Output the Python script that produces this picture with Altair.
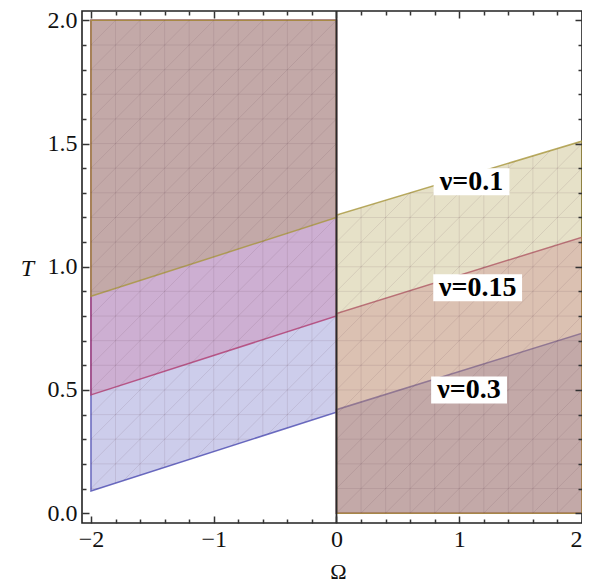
import altair as alt
import pandas as pd
import numpy as np

# ---- data ----
nu_labels = ["ν=0.1", "ν=0.15", "ν=0.3"]
omega_left = [-2.0, 0.0]
omega_right = [0.0, 2.0]
T_left_start = [0.88, 0.48, 0.09]   # boundary at Ω=-2
T_left_end = [1.20, 0.80, 0.41]     # boundary at Ω=0 (left side)
T_right_start = [1.21, 0.81, 0.42]  # boundary at Ω=0 (right side)
T_right_end = [1.51, 1.12, 0.73]    # boundary at Ω=2
T_top = 2.0
T_bottom = 0.0

label_omega = [1.10, 1.15, 1.08]
label_T = [1.345, 0.915, 0.50]

x_major = [-2, -1, 0, 1, 2]
x_minor = [-1.8, -1.6, -1.4, -1.2, -0.8, -0.6, -0.4, -0.2,
           0.2, 0.4, 0.6, 0.8, 1.2, 1.4, 1.6, 1.8]
y_major = [0.0, 0.5, 1.0, 1.5, 2.0]
y_minor = [0.1, 0.2, 0.3, 0.4, 0.6, 0.7, 0.8, 0.9,
           1.1, 1.2, 1.3, 1.4, 1.6, 1.7, 1.8, 1.9]

# mesh (triangulation texture) spacing
mesh_dx = 0.2
mesh_dy = 0.1

fill_colors = {"ν=0.1": "#ac9b48", "ν=0.15": "#cd6998", "ν=0.3": "#5858bc"}
stroke_colors = {"ν=0.1": "#a8963c", "ν=0.15": "#b03c70", "ν=0.3": "#4848b0"}

# ---- tables ----
rows = []
for i, lab in enumerate(nu_labels):
    rows.append({"nu": lab, "side": "L", "x": omega_left[0], "lo": T_left_start[i], "hi": T_top})
    rows.append({"nu": lab, "side": "L", "x": omega_left[1], "lo": T_left_end[i], "hi": T_top})
    rows.append({"nu": lab, "side": "R", "x": omega_right[0], "lo": T_bottom, "hi": T_right_start[i]})
    rows.append({"nu": lab, "side": "R", "x": omega_right[1], "lo": T_bottom, "hi": T_right_end[i]})
regions = pd.DataFrame(rows)

# union of the regions: two convex quadrilaterals (counter-clockwise)
iL = nu_labels.index("ν=0.3")   # lowest boundary on the left
iR = nu_labels.index("ν=0.1")   # highest boundary on the right
poly_left = [(omega_left[0], T_left_start[iL]), (omega_left[1], T_left_end[iL]),
             (omega_left[1], T_top), (omega_left[0], T_top)]
poly_right = [(omega_right[0], T_bottom), (omega_right[1], T_bottom),
              (omega_right[1], T_right_end[iR]), (omega_right[0], T_right_start[iR])]


def clip(p0, p1, poly):
    """Cyrus-Beck clip of segment p0-p1 against a convex CCW polygon."""
    p0 = np.array(p0, float); p1 = np.array(p1, float)
    d = p1 - p0
    t0, t1 = 0.0, 1.0
    n = len(poly)
    for k in range(n):
        a = np.array(poly[k], float); b = np.array(poly[(k + 1) % n], float)
        e = b - a
        normal = np.array([-e[1], e[0]])  # inward for CCW
        num = np.dot(normal, p0 - a)
        den = np.dot(normal, d)
        if abs(den) < 1e-12:
            if num < 0:
                return None
            continue
        t = -num / den
        if den > 0:
            t0 = max(t0, t)
        else:
            t1 = min(t1, t)
        if t0 >= t1:
            return None
    q0 = p0 + t0 * d; q1 = p0 + t1 * d
    return (q0[0], q0[1], q1[0], q1[1])


lines = []
for c in np.arange(mesh_dy, T_top, mesh_dy):
    lines.append(((-3, c), (3, c)))
for k in np.arange(-2 + mesh_dx, 2 - 1e-9, mesh_dx):
    if abs(k) > 1e-9:
        lines.append(((k, -1), (k, 3)))
for b in np.arange(-1.5, 3.0, mesh_dy):
    lines.append(((-4, b - 2.0), (4, b + 2.0)))   # slope 0.5 ≈ 45° on screen
seg_rows = []
for p0, p1 in lines:
    for poly in (poly_left, poly_right):
        s = clip(p0, p1, poly)
        if s is not None:
            seg_rows.append({"x": s[0], "y": s[1], "x2": s[2], "y2": s[3]})
mesh = pd.DataFrame(seg_rows)

PX_X = 123.0   # px per unit Ω
PX_Y = 246.5   # px per unit T
labels = pd.DataFrame({"label": nu_labels, "x": label_omega, "y": label_T})
half_w = (6.5 * labels["label"].str.len() + 5.5) / PX_X
half_h = 13.5 / PX_Y
labels["x0"] = labels["x"] - half_w
labels["x1"] = labels["x"] + half_w
labels["y0"] = labels["y"] - half_h
labels["y1"] = labels["y"] + half_h

xs = alt.Scale(domain=[-2.073, 2.0], nice=False, zero=False)
ys = alt.Scale(domain=[-0.04, 2.038], nice=False, zero=False)

common = dict(domain=False, grid=False, tickColor="#333333", tickWidth=1.5,
              labelFont="Liberation Serif", labelFontSize=24, labelColor="#111111",
              zindex=1)


def ax(orient, values, size, labels_on=False, **kw):
    return alt.Axis(orient=orient, values=values, tickSize=size, offset=-size,
                    labels=labels_on, **common, **kw)


ax_bottom = ax("bottom", x_major, 7, True, format="d", labelPadding=4, labelFlush=True,
               title="Ω", titleFont="Liberation Serif", titleFontSize=22,
               titleFontWeight="normal", titleColor="#111111",
               titleX=256, titleY=62, titleAlign="center", titleBaseline="alphabetic")
ax_left = ax("left", y_major, 7, True, format=".1f", labelPadding=5, labelFlush=False,
             title="T", titleFont="Liberation Serif", titleFontSize=24,
             titleFontStyle="italic", titleFontWeight="normal", titleColor="#111111",
             titleAngle=0, titleX=-62, titleY=257, titleAlign="center",
             titleBaseline="middle")
ax_bottom_minor = ax("bottom", x_minor, 4, title=None)
ax_left_minor = ax("left", y_minor, 4, title=None)
ax_top = ax("top", x_major, 7, title=None)
ax_right = ax("right", y_major, 7, title=None)
ax_top_minor = ax("top", x_minor, 4, title=None)
ax_right_minor = ax("right", y_minor, 4, title=None)

axes_for = {
    "ν=0.3": (ax_bottom, ax_left),
    "ν=0.15": (ax_bottom_minor, ax_left_minor),
    "ν=0.1": (ax_top, ax_right),
}

layers = []
for lab in ["ν=0.3", "ν=0.15", "ν=0.1"]:
    axx, axy = axes_for[lab]
    layers.append(
        alt.Chart(regions[regions["nu"] == lab]).mark_area(
            fill=fill_colors[lab], fillOpacity=0.3,
            stroke=stroke_colors[lab], strokeWidth=1.5, strokeOpacity=0.8,
        ).encode(
            x=alt.X("x:Q", scale=xs, axis=axx),
            y=alt.Y("lo:Q", scale=ys, axis=axy, stack=None),
            y2="hi:Q",
            detail="side:N",
        )
    )

mesh_layer = alt.Chart(mesh).mark_rule(
    color="#5a3a4a", strokeWidth=0.8, opacity=0.15
).encode(
    x=alt.X("x:Q", scale=xs, axis=None),
    y=alt.Y("y:Q", scale=ys, axis=None),
    x2="x2:Q",
    y2="y2:Q",
)

axis_line = alt.Chart(pd.DataFrame({"x": [0.0]})).mark_rule(
    color="#2a2a2a", strokeWidth=1.8
).encode(x=alt.X("x:Q", scale=xs, axis=None))

boxes = alt.Chart(labels).mark_rect(color="white", opacity=1).encode(
    x=alt.X("x0:Q", scale=xs, axis=ax_top_minor),
    x2="x1:Q",
    y=alt.Y("y0:Q", scale=ys, axis=ax_right_minor),
    y2="y1:Q",
)

texts = alt.Chart(labels).mark_text(
    font="Liberation Serif", fontSize=28, fontWeight="bold", color="black",
    align="center", baseline="middle"
).encode(
    x=alt.X("x:Q", scale=xs, axis=None),
    y=alt.Y("y:Q", scale=ys, axis=None),
    text="label:N",
)

chart = alt.layer(*layers, mesh_layer, axis_line, boxes, texts).resolve_axis(
    x="independent", y="independent"
).properties(
    width=500, height=512,
    autosize=alt.AutoSizeParams(type="none"),
    padding={"left": 74, "top": 3, "right": 0, "bottom": 70},
).configure_view(stroke="#222222", strokeWidth=1.6)

chart.save("out.html", embed_options={"renderer": "svg", "actions": False})
